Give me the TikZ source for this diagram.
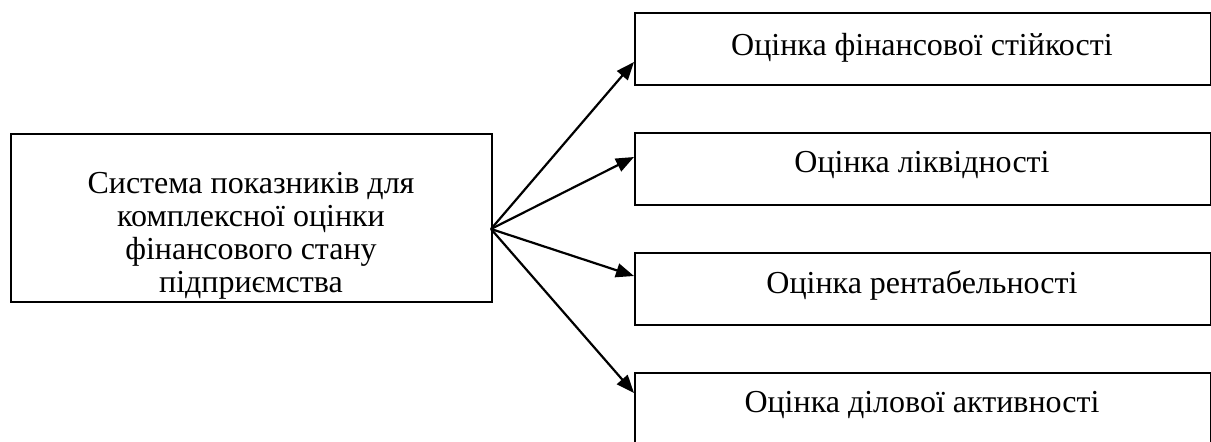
\documentclass[tikz,border=0pt]{standalone}
\usepackage{fontspec}
\setmainfont{Liberation Serif}
\usetikzlibrary{arrows.meta}
\begin{document}
\begin{tikzpicture}[x=0.5pt,y=-0.5pt,
  boxr/.style={draw, line width=0.8pt, rectangle, anchor=north west, inner sep=0pt},
  txt/.style={font=\fontsize{16}{16.5}\selectfont, align=center, inner sep=0pt},
  conn/.style={line width=1.1pt, -{Triangle[length=9pt,width=7pt]}}]
\useasboundingbox (0,0) rectangle (1211,441);
% left box
\node[boxr, minimum width=240.5pt, minimum height=84pt] (L) at (10,133) {};
\node[txt] (Lt) at (251,236) {Система показників для\\комплексної оцінки\\фінансового стану\\підприємства};
% right boxes
\node[boxr, minimum width=288pt, minimum height=36pt] (b1) at (634,12) {};
\node[boxr, minimum width=288pt, minimum height=36pt] (b2) at (634,132) {};
\node[boxr, minimum width=288pt, minimum height=36pt] (b3) at (634,252) {};
\node[boxr, minimum width=288pt, minimum height=36pt] (b4) at (634,372) {};
\node[txt] (t1) at (922,48) {Оцінка фінансової стійкості};
\node[txt] (t2) at (922,165) {Оцінка ліквідності};
\node[txt] (t3) at (922,285) {Оцінка рентабельності};
\node[txt] (t4) at (922,405) {Оцінка ділової активності};
% connectors
\coordinate (f) at (491,229);
\coordinate (e1) at (634,62);
\coordinate (e2) at (634,157);
\coordinate (e3) at (634,276);
\coordinate (e4) at (634,393);
\draw[conn] (f) -- (e1);
\draw[conn] (f) -- (e2);
\draw[conn] (f) -- (e3);
\draw[conn] (f) -- (e4);
\end{tikzpicture}
\end{document}
